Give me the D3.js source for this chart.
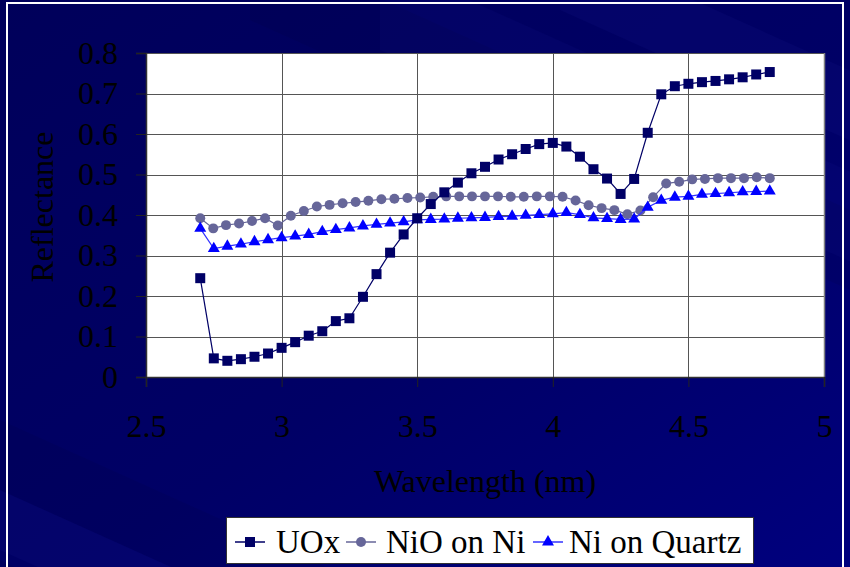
<!DOCTYPE html>
<html>
<head>
<meta charset="utf-8">
<script src="https://cdn.jsdelivr.net/npm/d3@7"></script>
<style>
  html, body { margin: 0; padding: 0; background: #000066; }
  svg { display: block; }
  text { font-family: "Liberation Serif", "Times New Roman", serif; }
</style>
</head>
<body>
<svg id="chart" width="850" height="567"></svg>
<script>
// Wavelengths (nm) shared by the UOx and Ni-on-Quartz scans
const wavelengths = [2.70, 2.75, 2.80, 2.85, 2.90, 2.95, 3.00, 3.05, 3.10, 3.15,
  3.20, 3.25, 3.30, 3.35, 3.40, 3.45, 3.50, 3.55, 3.60, 3.65,
  3.70, 3.75, 3.80, 3.85, 3.90, 3.95, 4.00, 4.05, 4.10, 4.15,
  4.20, 4.25, 4.30, 4.35, 4.40, 4.45, 4.50, 4.55, 4.60, 4.65,
  4.70, 4.75, 4.80];

const uox = [0.244, 0.046, 0.040, 0.044, 0.050, 0.058, 0.072, 0.086, 0.102, 0.113,
  0.138, 0.145, 0.198, 0.254, 0.307, 0.352, 0.392, 0.427, 0.456, 0.480,
  0.503, 0.519, 0.537, 0.550, 0.563, 0.575, 0.578, 0.569, 0.544, 0.513,
  0.490, 0.452, 0.489, 0.603, 0.698, 0.718, 0.724, 0.728, 0.731, 0.735,
  0.740, 0.747, 0.753];

const niQuartz = [0.367, 0.317, 0.323, 0.328, 0.334, 0.339, 0.344, 0.348, 0.352, 0.359,
  0.364, 0.368, 0.373, 0.377, 0.380, 0.383, 0.388, 0.389, 0.390, 0.392,
  0.393, 0.394, 0.396, 0.397, 0.399, 0.401, 0.403, 0.406, 0.401, 0.393,
  0.391, 0.389, 0.390, 0.419, 0.436, 0.444, 0.446, 0.451, 0.453, 0.455,
  0.457, 0.458, 0.459];

// The NiO scan was sampled on its own, slightly denser wavelength grid
const nioWavelengths = [2.700, 2.748, 2.795, 2.843, 2.891, 2.939, 2.986, 3.034, 3.082, 3.130,
  3.177, 3.225, 3.273, 3.320, 3.368, 3.416, 3.464, 3.511, 3.559, 3.607,
  3.655, 3.702, 3.750, 3.798, 3.845, 3.893, 3.941, 3.989, 4.036, 4.084,
  4.132, 4.180, 4.227, 4.275, 4.323, 4.370, 4.418, 4.466, 4.514, 4.561,
  4.609, 4.657, 4.705, 4.752, 4.800];

const nioOnNi = [0.392, 0.367, 0.375, 0.379, 0.385, 0.392, 0.374, 0.398, 0.410, 0.421,
  0.425, 0.429, 0.432, 0.435, 0.439, 0.440, 0.442, 0.443, 0.445, 0.446,
  0.446, 0.446, 0.446, 0.446, 0.445, 0.445, 0.446, 0.446, 0.445, 0.436,
  0.424, 0.417, 0.412, 0.402, 0.411, 0.444, 0.478, 0.482, 0.488, 0.489,
  0.491, 0.491, 0.491, 0.493, 0.491];

const xTicks = [2.5, 3, 3.5, 4, 4.5, 5];
const yTicks = [0, 0.1, 0.2, 0.3, 0.4, 0.5, 0.6, 0.7, 0.8];
const seriesNames = ["UOx", "NiO on Ni", "Ni on Quartz"];

const W = 850, H = 567;
const plot = { left: 146, right: 824, top: 53, bottom: 377 };

const svg = d3.select("#chart");

// ---- slide background: navy gradient with soft diagonal sweeps ----
const defs = svg.append("defs");
const bg = defs.append("linearGradient").attr("id", "bgGrad")
  .attr("x1", "0").attr("y1", "0").attr("x2", "1").attr("y2", "1");
bg.append("stop").attr("offset", "0").attr("stop-color", "#00005a");
bg.append("stop").attr("offset", "0.55").attr("stop-color", "#000066");
bg.append("stop").attr("offset", "1").attr("stop-color", "#00007e");
svg.append("rect").attr("width", W).attr("height", H).attr("fill", "url(#bgGrad)");

const sweeps = [
  { x0: -200, y0: 330, w: 70, op: 0.10, c: "#000030" },
  { x0: -200, y0: 400, w: 60, op: 0.12, c: "#2020a0" },
  { x0: -200, y0: 470, w: 50, op: 0.10, c: "#000030" },
  { x0: 250, y0: -60, w: 80, op: 0.10, c: "#000030" },
  { x0: 380, y0: -40, w: 90, op: 0.10, c: "#2020a0" },
  { x0: 560, y0: -60, w: 70, op: 0.12, c: "#2020a0" }
];
const slope = 0.45;
svg.append("g").selectAll("path").data(sweeps).join("path")
  .attr("d", s => {
    const x1 = s.x0 + 1400;
    return `M${s.x0},${s.y0} L${x1},${s.y0 + 1400 * slope} L${x1},${s.y0 + s.w + 1400 * slope} L${s.x0},${s.y0 + s.w} Z`;
  })
  .attr("fill", s => s.c).attr("opacity", s => s.op);

// thin white slide frame
svg.append("rect").attr("x", 7).attr("y", 3).attr("width", 836).attr("height", 620)
  .attr("fill", "none").attr("stroke", "#ffffff").attr("stroke-width", 2);

// ---- scales ----
const x = d3.scaleLinear().domain([2.5, 5]).range([plot.left, plot.right]);
const y = d3.scaleLinear().domain([0, 0.8]).range([plot.bottom, plot.top]);

// plot area
svg.append("rect")
  .attr("x", plot.left).attr("y", plot.top)
  .attr("width", plot.right - plot.left).attr("height", plot.bottom - plot.top)
  .attr("fill", "#ffffff");

// gridlines
const grid = svg.append("g").attr("stroke", "#555555").attr("stroke-width", 1).attr("shape-rendering", "crispEdges");
grid.selectAll(".h").data(yTicks.filter(d => d > 0)).join("line")
  .attr("x1", plot.left).attr("x2", plot.right)
  .attr("y1", d => Math.round(y(d)) + 0.5).attr("y2", d => Math.round(y(d)) + 0.5);
grid.selectAll(".v").data(xTicks.filter(d => d > 2.5 && d < 5)).join("line")
  .attr("y1", plot.top).attr("y2", plot.bottom)
  .attr("x1", d => Math.round(x(d)) + 0.5).attr("x2", d => Math.round(x(d)) + 0.5);
svg.append("line").attr("x1", plot.right + 0.5).attr("x2", plot.right + 0.5)
  .attr("y1", plot.top).attr("y2", plot.bottom)
  .attr("stroke", "#808080").attr("stroke-width", 1.5);

// ---- axes ----
const fmtY = d => d === 0 ? "0" : d3.format(".1f")(d);
const yAxis = svg.append("g").attr("transform", `translate(${plot.left},0)`)
  .call(d3.axisLeft(y).tickValues(yTicks).tickFormat(fmtY).tickSize(10).tickPadding(18));
const xAxis = svg.append("g").attr("transform", `translate(0,${plot.bottom})`)
  .call(d3.axisBottom(x).tickValues(xTicks).tickFormat(d => String(d)).tickSize(10).tickPadding(27));
[yAxis, xAxis].forEach(a => {
  a.select(".domain").attr("stroke", "#333333").attr("stroke-width", 1.5);
  a.selectAll(".tick line").attr("stroke", "#222222");
  a.selectAll(".tick text").attr("fill", "#000000")
    .style("font-family", "'Liberation Serif', serif").style("font-size", "32px");
});

// axis titles
svg.append("text")
  .attr("x", (plot.left + plot.right) / 2).attr("y", 492)
  .attr("text-anchor", "middle").attr("fill", "#000000")
  .style("font-size", "32px").text("Wavelength (nm)");
svg.append("text")
  .attr("transform", "translate(53,207) rotate(-90)")
  .attr("text-anchor", "middle").attr("fill", "#000000")
  .style("font-size", "32px").text("Reflectance");

// ---- series ----
const series = [
  { name: seriesNames[0], xs: wavelengths, ys: uox, color: "#000066", line: "#000066", shape: "square" },
  { name: seriesNames[1], xs: nioWavelengths, ys: nioOnNi, color: "#666699", line: "#666699", shape: "circle" },
  { name: seriesNames[2], xs: wavelengths, ys: niQuartz, color: "#0000ff", line: "#3333ff", shape: "triangle" }
];

const symbolOf = {
  square: d3.symbol().type(d3.symbolSquare).size(100),
  circle: d3.symbol().type(d3.symbolCircle).size(78),
  triangle: d3.symbol().type(d3.symbolTriangle).size(62)
};

const line = d3.line().x(d => x(d[0])).y(d => y(d[1]));
const drawOrder = [1, 2, 0];
drawOrder.forEach(i => {
  const s = series[i];
  const pts = s.xs.map((w, k) => [w, s.ys[k]]);
  const g = svg.append("g");
  g.append("path").datum(pts).attr("d", line)
    .attr("fill", "none").attr("stroke", s.line).attr("stroke-width", 1.2);
  g.selectAll("path.m").data(pts).join("path").attr("class", "m")
    .attr("transform", d => `translate(${x(d[0])},${y(d[1])})`)
    .attr("d", symbolOf[s.shape]())
    .attr("fill", s.color);
});

// ---- legend ----
const legend = svg.append("g");
legend.append("rect").attr("x", 226.5).attr("y", 517.5).attr("width", 527).attr("height", 46)
  .attr("fill", "#ffffff").attr("stroke", "#333333").attr("stroke-width", 1);
const legendItems = [
  { s: series[0], lx: 235, tx: 276 },
  { s: series[1], lx: 346, tx: 386 },
  { s: series[2], lx: 533, tx: 569 }
];
legendItems.forEach(it => {
  const cy = 542;
  legend.append("line").attr("x1", it.lx).attr("x2", it.lx + 30).attr("y1", cy).attr("y2", cy)
    .attr("stroke", it.s.line).attr("stroke-width", 1.5);
  legend.append("path").attr("transform", `translate(${it.lx + 15},${cy})`)
    .attr("d", symbolOf[it.s.shape]()).attr("fill", it.s.color);
  legend.append("text").attr("x", it.tx).attr("y", cy + 11)
    .attr("fill", "#000000").style("font-size", "33px").text(it.s.name);
});
</script>
</body>
</html>
